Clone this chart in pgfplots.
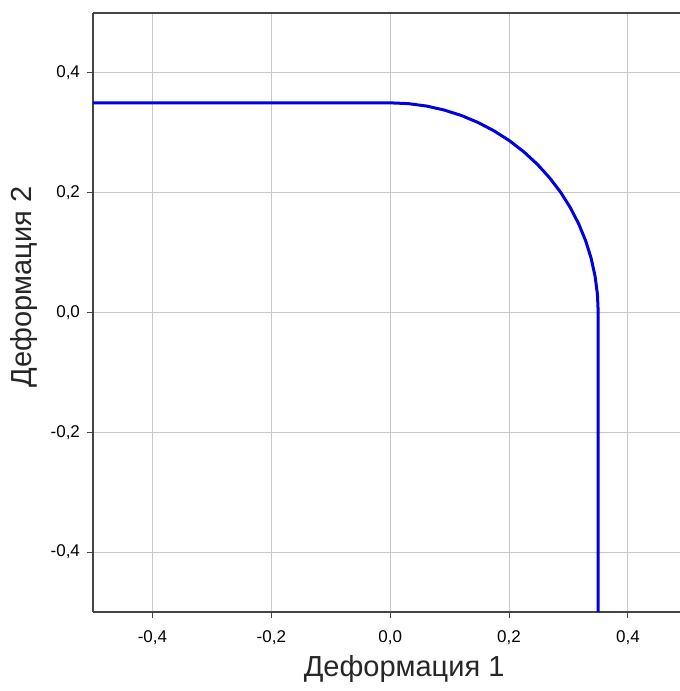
\documentclass[border=0pt]{standalone}
\usepackage{pgfplots}
\pgfplotsset{compat=1.18}
\usepackage{fontspec}
\setmainfont{Liberation Sans}
\definecolor{curve}{RGB}{0,0,225}
\definecolor{gridc}{RGB}{200,200,200}
\definecolor{axc}{RGB}{70,70,70}
\begin{document}
\begin{tikzpicture}
\begin{axis}[
  at={(0,0)}, anchor=south west,
  scale only axis,
  width=293.5pt, height=299.5pt,
  xmin=-0.5, xmax=0.4876, ymin=-0.5, ymax=0.5,
  axis lines=left,
  axis line style={draw=axc, line width=0.8pt, -},
  xtick={-0.4,-0.2,0,0.2,0.4},
  ytick={-0.4,-0.2,0,0.2,0.4},
  tick align=outside,
  major tick length=3pt,
  tick style={draw=axc, line width=0.5pt},
  grid=major,
  grid style={draw=gridc, line width=0.5pt},
  /pgf/number format/assume math mode=true,
  /pgf/number format/.cd, fixed, fixed zerofill, precision=1, use comma, /pgfplots/.cd,
  tick label style={font=\fontsize{8.5}{10}\selectfont, text=black},
  xticklabel style={yshift=-3pt},
  yticklabel style={xshift=0pt},
  xlabel={Деформация 1},
  ylabel={Деформация 2},
  label style={font=\fontsize{14.5}{17}\selectfont, text=black!85},
  xlabel style={at={(axis description cs:0.53,-0.0955)}, anchor=center},
  ylabel style={at={(axis description cs:-0.1175,0.543)}, anchor=center},
  clip=true,
]
\addplot[curve, line width=1.5pt] coordinates {
(-0.5,0.35) (0,0.35)
(0.0305,0.3487) (0.0608,0.3447) (0.0906,0.3381) (0.1197,0.3289)
(0.1479,0.3172) (0.175,0.3031) (0.2008,0.2867) (0.2250,0.2681)
(0.2475,0.2475) (0.2681,0.2250) (0.2867,0.2008) (0.3031,0.175)
(0.3172,0.1479) (0.3289,0.1197) (0.3381,0.0906) (0.3447,0.0608)
(0.3487,0.0305) (0.35,0) (0.35,-0.5)
};
\draw[axc, line width=0.8pt] (rel axis cs:0,1) -- (rel axis cs:1,1);
\end{axis}
\pgfresetboundingbox
\path (-46.5pt,-39.5pt) rectangle (293.5pt,306pt);
\end{tikzpicture}
\end{document}
